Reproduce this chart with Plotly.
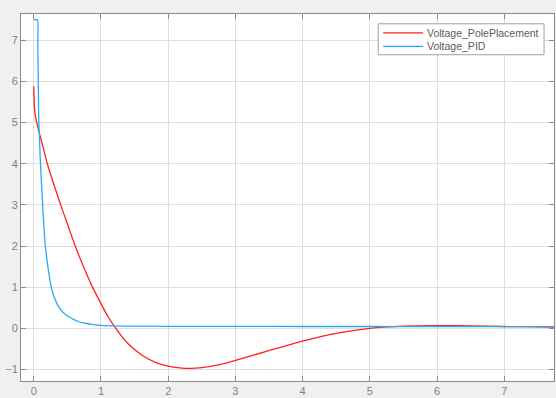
import plotly.graph_objects as go

# Pole placement controller voltage
t_pp = [0, 0.004, 0.01, 0.02, 0.04, 0.06, 0.082, 0.1, 0.15, 0.2, 0.3, 0.4, 0.5, 0.61,
        0.75, 0.86, 1.0, 1.1, 1.22, 1.4, 1.6, 1.8, 2.0, 2.2, 2.33, 2.5, 2.8, 3.0, 3.5,
        4.0, 4.5, 5.0, 5.2, 5.5, 6.0, 6.5, 7.0, 7.5, 7.75]
v_pp = [5.88, 5.6, 5.38, 5.2, 5.03, 4.9, 4.75, 4.64, 4.33, 4.01, 3.49, 3.0, 2.54, 2.03,
        1.46, 1.05, 0.6, 0.3, 0.0, -0.37, -0.64, -0.82, -0.92, -0.965, -0.975, -0.955,
        -0.87, -0.78, -0.54, -0.31, -0.12, 0.0, 0.03, 0.055, 0.065, 0.06, 0.045, 0.035,
        0.03]

# PID controller voltage
t_pid = [0, 0.055, 0.06, 0.067, 0.075, 0.082, 0.1, 0.132, 0.172, 0.21, 0.26, 0.31, 0.37,
         0.44, 0.52, 0.6, 0.67, 0.75, 0.84, 1.0, 1.3, 2, 3, 4, 5, 6, 7, 7.75]
v_pid = [7.5, 7.5, 6.9, 6.0, 5.0, 4.73, 4.0, 3.0, 2.0, 1.5, 1.0, 0.73, 0.52,
         0.38, 0.28, 0.21, 0.16, 0.13, 0.10, 0.07, 0.055, 0.05, 0.05, 0.045, 0.045,
         0.04, 0.04, 0.04]

x_ticks = [0, 1, 2, 3, 4, 5, 6, 7]
y_ticks = [-1, 0, 1, 2, 3, 4, 5, 6, 7]

series_names = ["Voltage_PolePlacement", "Voltage_PID"]
series_colors = ["#ff2020", "#2ea8f5"]

FONT = "Liberation Sans, Arial, sans-serif"

fig = go.Figure()
fig.add_trace(go.Scatter(x=t_pp, y=v_pp, mode="lines", name=series_names[0],
                         line=dict(color=series_colors[0], width=1.3,
                                   shape="spline", smoothing=0.6)))
fig.add_trace(go.Scatter(x=t_pid, y=v_pid, mode="lines", name=series_names[1],
                         line=dict(color=series_colors[1], width=1.3,
                                   shape="spline", smoothing=0.5)))

axis_common = dict(
    showgrid=True, gridcolor="#dedede", gridwidth=1,
    zeroline=False,
    showline=True, linecolor="#8a8a8a", linewidth=1, mirror="ticks",
    ticks="inside", ticklen=5, tickcolor="#8a8a8a",
    tickfont=dict(family=FONT, size=11, color="#808080"),
)

fig.update_xaxes(range=[-0.19, 7.74], tickvals=x_ticks, **axis_common)
fig.update_yaxes(range=[-1.28, 7.64], tickvals=y_ticks, **axis_common)

# Compact legend box in the upper-right corner of the axes (paper coordinates)
box_x0, box_x1 = 0.6701, 0.9813
box_y0, box_y1 = 0.8890, 0.9733
sample_x0, sample_x1 = 0.6795, 0.7545
text_x = 0.7575
row_y = [0.9488, 0.9116]

shapes = [dict(type="rect", xref="paper", yref="paper",
               x0=box_x0, x1=box_x1, y0=box_y0, y1=box_y1,
               line=dict(color="#a0a0a0", width=1), fillcolor="white", layer="above")]
annotations = []
for name, color, yy in zip(series_names, series_colors, row_y):
    shapes.append(dict(type="line", xref="paper", yref="paper",
                       x0=sample_x0, x1=sample_x1, y0=yy, y1=yy,
                       line=dict(color=color, width=1.3), layer="above"))
    annotations.append(dict(xref="paper", yref="paper", x=text_x, y=yy,
                            xanchor="left", yanchor="middle", showarrow=False,
                            text=name, font=dict(family=FONT, size=10.5, color="#5a5a5a")))

fig.update_layout(
    width=556, height=398,
    margin=dict(l=20.5, r=2, t=13.5, b=17),
    paper_bgcolor="#f0f0f0", plot_bgcolor="white",
    showlegend=False,
    shapes=shapes,
    annotations=annotations,
)

fig.write_html("out.html")
